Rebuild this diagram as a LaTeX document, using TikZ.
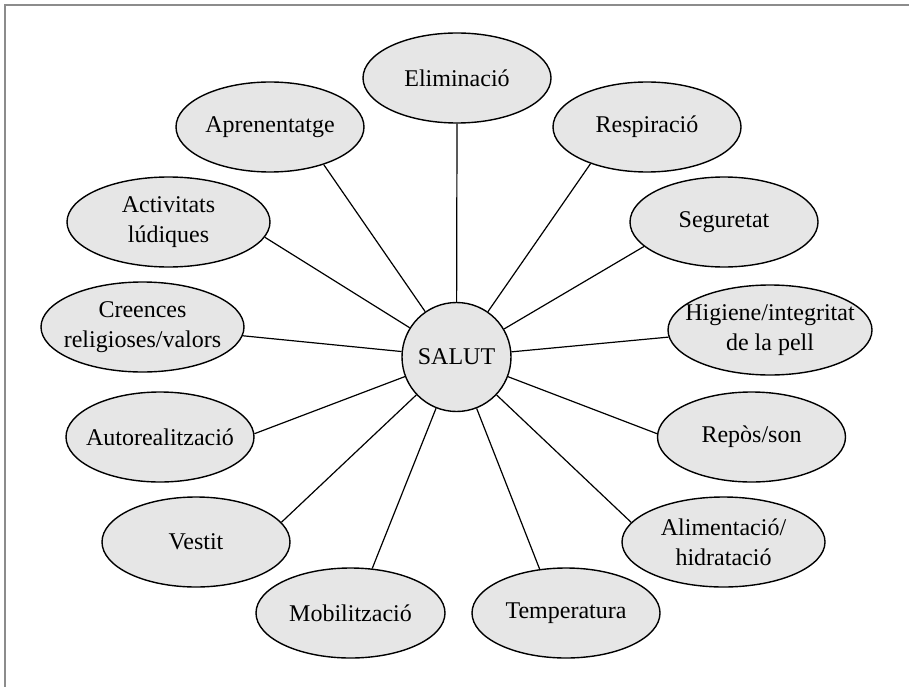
\documentclass[tikz,border=0pt]{standalone}
\usepackage{fontspec}
\setmainfont{Liberation Serif}
\usetikzlibrary{shapes.geometric}
\definecolor{bubfill}{RGB}{230,230,230}
\definecolor{framegray}{RGB}{140,140,140}
\begin{document}
\begin{tikzpicture}[x=1pt,y=-1pt,
  bub/.style={ellipse, draw, line width=1.4pt, fill=bubfill,
    minimum width=188pt, minimum height=90pt, inner xsep=-14pt, inner ysep=0pt,
    align=center, font=\fontsize{24}{30}\selectfont},
  widebub/.style={bub, minimum width=203pt},
  hub/.style={circle, draw, line width=1.4pt, fill=bubfill, minimum size=109pt,
    inner sep=0pt, font=\fontsize{24}{30}\selectfont},
  link/.style={line width=1.2pt}]
\useasboundingbox (0,0) rectangle (909,687);
\draw[framegray, line width=1.7pt] (5,687) -- (5,5) -- (909,5);

\node[hub] (sal) at (456.5,357) {SALUT};
\node[bub] (eli) at (457,78) {Eliminació};
\node[bub] (apr) at (270,127) {Aprenentatge};
\node[bub] (res) at (647,127) {Respiració};
\node[widebub] (act) at (168.5,222) {Activitats\\lúdiques};
\node[bub] (seg) at (724,222) {Seguretat};
\node[widebub] (cre) at (142.5,327) {Creences\\religioses/valors};
\node[widebub, minimum width=204pt] (hig) at (770,330) {Higiene/integritat\\de la pell};
\node[bub] (aut) at (160,437) {Autorealització};
\node[bub] (rep) at (751.5,437) {Repòs/son};
\node[bub] (ves) at (196,542) {Vestit};
\node[widebub] (ali) at (723.5,542) {Alimentació/\\hidratació};
\node[bub, minimum width=189pt] (mob) at (350.5,613) {Mobilització};
\node[bub] (tem) at (566,613) {Temperatura};

\draw[link] (eli.south) -- (sal);
\draw[link] (apr.-35) -- (sal);
\draw[link] (res.213) -- (sal);
\draw[link] (act.-9) -- (sal);
\draw[link] (seg.197) -- (sal);
\draw[link] (cre.-5) -- (sal);
\draw[link] (hig.184) -- (sal);
\draw[link] (aut.2) -- (sal);
\draw[link] (rep.178) -- (sal);
\draw[link] (ves.13) -- (sal);
\draw[link] (ali.168) -- (sal);
\draw[link] (mob.64) -- (sal);
\draw[link] (tem.121) -- (sal);
\end{tikzpicture}
\end{document}
